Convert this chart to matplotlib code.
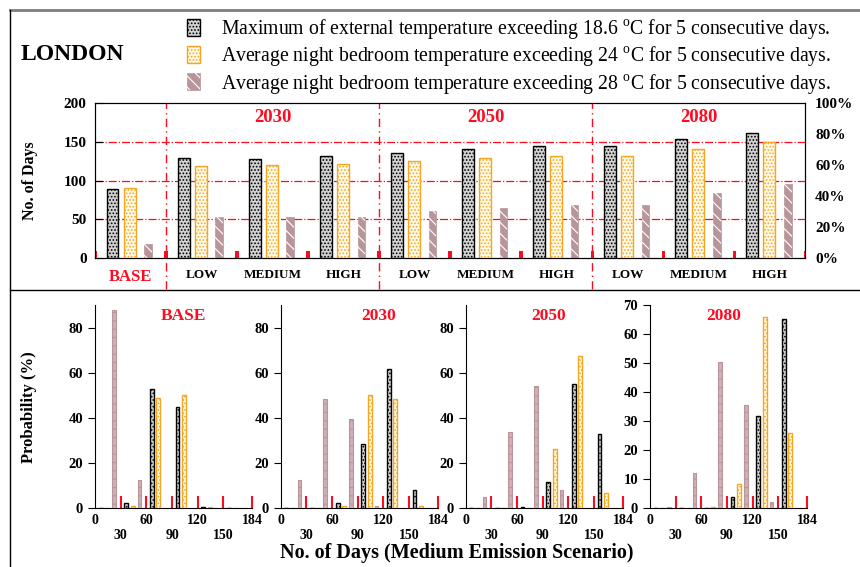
import numpy as np
import matplotlib.pyplot as plt
from matplotlib.patches import Patch
from matplotlib.lines import Line2D

plt.rcParams['font.family'] = 'Liberation Serif'
plt.rcParams['mathtext.fontset'] = 'custom'
plt.rcParams['mathtext.rm'] = 'Liberation Serif'
plt.rcParams['hatch.linewidth'] = 0.8

# days over threshold per scenario
scenarios = ['BASE', 'LOW', 'MEDIUM', 'HIGH', 'LOW', 'MEDIUM', 'HIGH', 'LOW', 'MEDIUM', 'HIGH']
years = ['2030', '2050', '2080']
ext_days = [89, 129, 128, 132, 136, 141, 145, 145, 154, 162]
n24_days = [90, 119, 120, 121, 125, 129, 132, 132, 141, 150]
n28_days = [18, 53, 53, 53, 61, 65, 69, 69, 84, 95]

# probability (%) per 30-day bin, medium emission scenario
bin_starts = [0, 30, 60, 90, 120, 150]
panel_titles = ['BASE', '2030', '2050', '2080']
prob_ext = [[0, 2.5, 53, 45, 0.5, 0],
            [0, 0, 2.5, 28.5, 61.5, 8.3],
            [0, 0, 0.5, 11.8, 55, 33],
            [0, 0, 0, 3.8, 31.8, 65.3]]
prob_n24 = [[0, 1, 49, 50, 0.5, 0],
            [0, 0, 1, 50, 48.5, 1],
            [0, 0, 0.3, 26.3, 67.3, 6.6],
            [0, 0, 0.3, 8.5, 66, 26]]
prob_n28 = [[88, 12.5, 0, 0, 0, 0],
            [12.5, 48.5, 39.5, 1, 0, 0],
            [4.8, 34, 54, 8.1, 0, 0],
            [0.5, 12.2, 50.3, 35.6, 2.2, 0]]

legend_labels = [
    r'Maximum of external temperature exceeding 18.6 $^{\rm o}$C for 5 consecutive days.',
    r'Average night bedroom temperature exceeding 24 $^{\rm o}$C for 5 consecutive days.',
    r'Average night bedroom temperature exceeding 28 $^{\rm o}$C for 5 consecutive days.',
]

ORANGE = '#f5a623'
MAUVE = '#b8959a'
RED = '#ff0a1e'
sty_ext = dict(facecolor='#d2d2d2', edgecolor='black', hatch='.....', linewidth=1.0)
sty_n24 = dict(facecolor='#fffbea', edgecolor=ORANGE, hatch='.....', linewidth=1.0)
# mauve bars: solid fill with white diagonal stripes laid over it
sty_n28 = dict(facecolor=MAUVE, edgecolor=MAUVE, linewidth=0.5)
sty_n28_stripe = dict(facecolor='none', edgecolor='white', hatch='\\\\\\', linewidth=0)

fig = plt.figure(figsize=(8.6, 5.67), dpi=100)

# ---- top panel ----
ax = fig.add_axes([0.1105, 0.545, 0.826, 0.273])
x = np.arange(len(scenarios))
ax.bar(x + 0.25, ext_days, width=0.16, **sty_ext, zorder=3)
ax.bar(x + 0.49, n24_days, width=0.16, **sty_n24, zorder=3)
ax.bar(x + 0.75, n28_days, width=0.11, **sty_n28, zorder=3)
ax.bar(x + 0.75, n28_days, width=0.11, **sty_n28_stripe, zorder=3.5)
ax.bar(np.arange(len(scenarios) + 1), 9, width=0.05, color=RED, zorder=4)

for yv in [50, 100, 150]:
    ax.axhline(yv, color=RED, lw=0.9, ls='-.', zorder=1)
for xv in [1, 4, 7]:
    ax.axvline(xv, ymin=-0.2, ymax=1, color=RED, lw=1.0, ls=(0, (6, 3, 1, 3)),
               clip_on=False, zorder=2)
for i, yr in enumerate(years):
    ax.text(2.5 + 3 * i, 181, yr, color=RED, fontsize=13.5, fontweight='bold',
            ha='center', va='center')

ax.set_xlim(0, 10)
ax.set_ylim(0, 200)
ax.set_yticks([0, 50, 100, 150, 200])
ax.tick_params(axis='y', direction='in', right=True, length=6, pad=6,
               labelsize=11)
ax.set_xticks(x + 0.5)
ax.set_xticklabels(scenarios, fontsize=9.5, fontweight='bold')
ax.tick_params(axis='x', length=0, pad=8)
lbl0 = ax.get_xticklabels()[0]
lbl0.set_color(RED)
lbl0.set_fontsize(12)
for t in ax.get_yticklabels():
    t.set_fontweight('bold')
ax.set_ylabel('No. of Days', fontsize=11.5, fontweight='bold')
ax.yaxis.set_label_coords(-0.08, 0.5)

ax2 = ax.twinx()
ax2.set_ylim(0, 100)
ax2.set_yticks(range(0, 101, 20))
ax2.set_yticklabels(['%d%%' % v for v in range(0, 101, 20)],
                    fontsize=11, fontweight='bold')
ax2.tick_params(axis='y', length=0, pad=7)

# ---- bottom panels ----
lefts = [0.1105, 0.3264, 0.5415, 0.7558]
title_x = [103, 115, 97, 86]
for k in range(4):
    a = fig.add_axes([lefts[k], 0.1035, 0.183, 0.3585])
    b = np.array(bin_starts)
    a.bar(b + 6.5, prob_ext[k], width=4.5, **sty_ext, zorder=3)
    a.bar(b + 14, prob_n24[k], width=4.5, **sty_n24, zorder=3)
    a.bar(b + 22, prob_n28[k], width=4.5, facecolor='#cfb0b4',
          edgecolor=MAUVE, hatch='--', linewidth=0.8, zorder=3)
    a.set_xlim(0, 184)
    if k < 3:
        a.set_ylim(0, 90)
        a.set_yticks([0, 20, 40, 60, 80])
    else:
        a.set_ylim(0, 70)
        a.set_yticks(range(0, 71, 10))
    a.spines['top'].set_visible(False)
    a.spines['right'].set_visible(False)
    a.set_xticks([0, 60, 120, 184])
    a.set_xticks([30, 90, 150], minor=True)
    a.set_xticklabels(['0', '60', '120', '184'], fontsize=10, fontweight='bold')
    a.set_xticklabels(['30', '90', '150'], minor=True, fontsize=10,
                      fontweight='bold')
    a.tick_params(axis='x', which='major', direction='in', length=9, width=1.5,
                  color=RED, pad=4)
    a.tick_params(axis='x', which='minor', direction='in', length=9, width=1.5,
                  color=RED, pad=15)
    a.xaxis.get_major_ticks()[0].tick1line.set_visible(False)
    a.tick_params(axis='y', direction='out', length=5, labelsize=10.5)
    for t in a.get_yticklabels():
        t.set_fontweight('bold')
    a.text(title_x[k], 0.945, panel_titles[k], color=RED, fontsize=12.5,
           fontweight='bold', ha='center', va='center',
           transform=a.get_xaxis_transform())
    if k == 0:
        a.set_ylabel('Probability (%)', fontsize=12, fontweight='bold')
        a.yaxis.set_label_coords(-0.37, 0.5)

fig.text(0.531, 0.024, 'No. of Days (Medium Emission Scenario)',
         fontsize=14.5, fontweight='bold', ha='center', va='center')

# ---- title and legend ----
fig.text(0.024, 0.903, 'LONDON', fontsize=17, fontweight='bold',
         ha='left', va='center')
handles = [Patch(**sty_ext), Patch(**sty_n24),
           (Patch(**sty_n28), Patch(**sty_n28_stripe))]
fig.legend(handles, legend_labels, loc='upper left',
           bbox_to_anchor=(0.208, 0.984), frameon=False, fontsize=14.2,
           handlelength=0.65, handleheight=0.95, handletextpad=1.1,
           labelspacing=0.17, borderaxespad=0)

# frame lines
fig.add_artist(Line2D([0.0116, 1.0], [0.982, 0.982], color='#7f7f7f', lw=2,
                      transform=fig.transFigure))
fig.add_artist(Line2D([0.0116, 0.0116], [0.0, 0.982], color='black', lw=1,
                      transform=fig.transFigure))
fig.add_artist(Line2D([0.0116, 1.0], [0.4885, 0.4885], color='black', lw=1,
                      transform=fig.transFigure))

fig.savefig('out.png', dpi=100)
